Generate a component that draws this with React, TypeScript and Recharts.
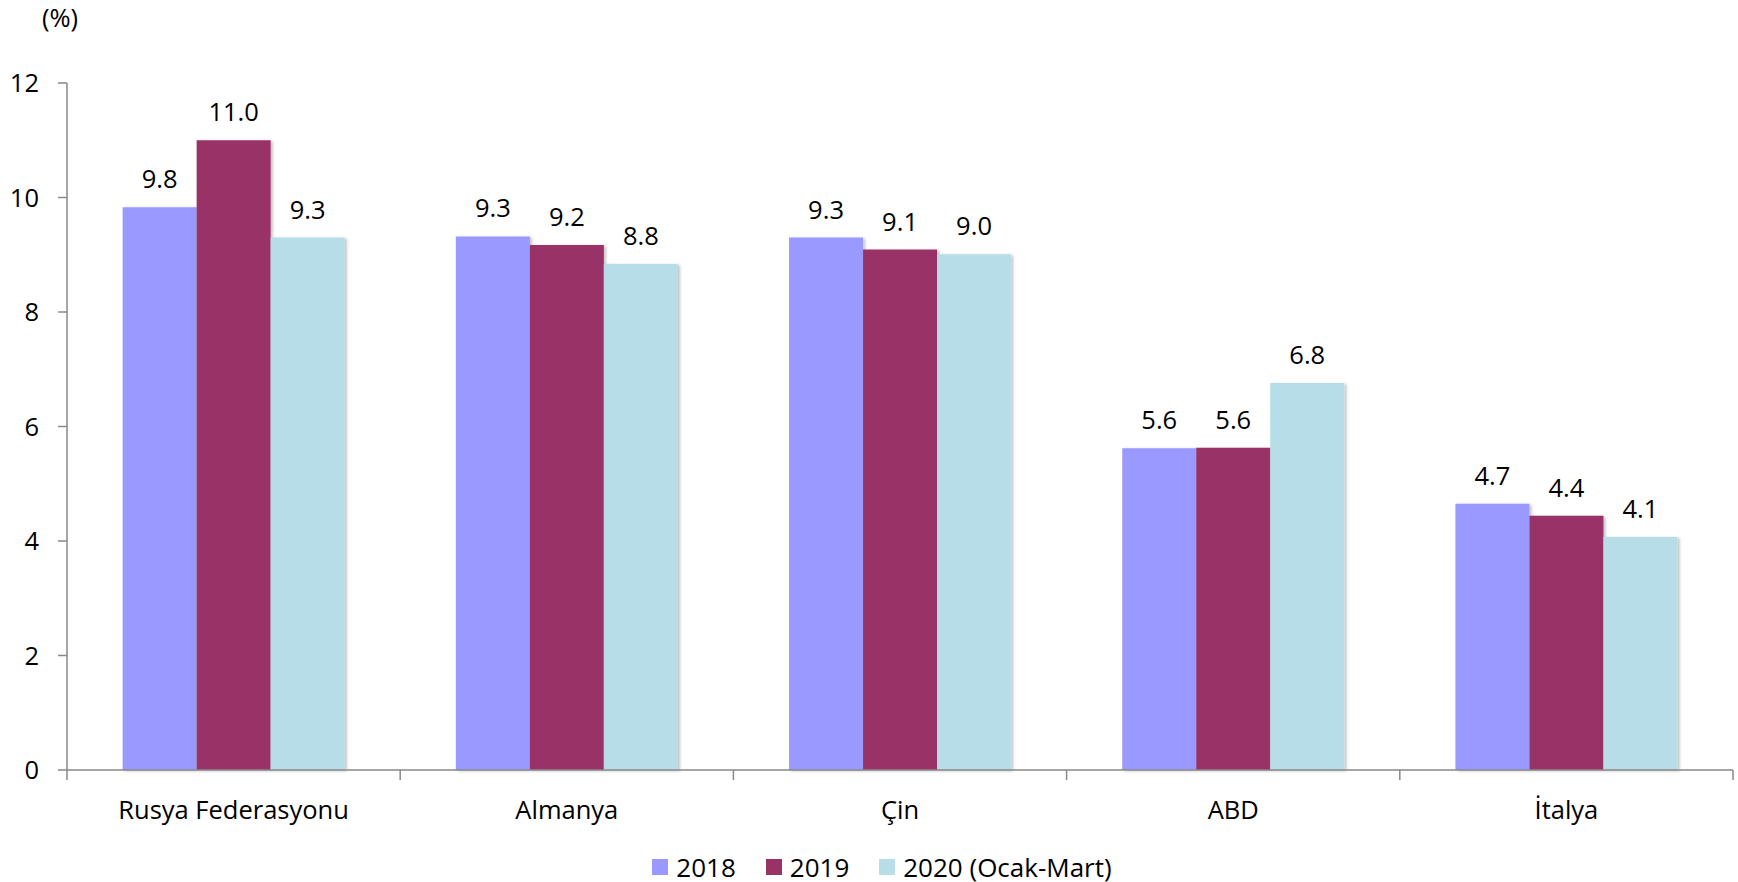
import React from 'react'
import { BarChart, Bar, XAxis, YAxis, LabelList } from 'recharts'

const countries = ['Rusya Federasyonu', 'Almanya', 'Çin', 'ABD', 'İtalya']
const values2018 = [9.83, 9.32, 9.3, 5.62, 4.65]
const values2019 = [11.0, 9.17, 9.09, 5.63, 4.44]
const values2020 = [9.3, 8.84, 9.01, 6.76, 4.07]
const yTicks = [0, 2, 4, 6, 8, 10, 12]
const boundaryTicks = [0, 1, 2, 3, 4, 5]

const series = [
  { key: 'v2018', name: '2018', color: '#9999FF' },
  { key: 'v2019', name: '2019', color: '#993366' },
  { key: 'v2020', name: '2020 (Ocak-Mart)', color: '#B7DDE8' },
]

const FONT = "'Open Sans', sans-serif"
const AXIS = '#898989'
const FS = 25.5

// slot = category centre on the boundary-tick axis
const data = countries.map((c, i) => ({
  name: c,
  slot: i + 0.5,
  v2018: values2018[i],
  v2019: values2019[i],
  v2020: values2020[i],
}))

export default function App() {
  return (
    <div style={{ position: 'absolute', left: 0, top: 0, width: 1738, height: 882, background: '#fff', fontFamily: FONT }}>
      <div style={{ position: 'absolute', left: 42, top: 2, fontSize: FS, lineHeight: '30px', color: '#000' }}>(%)</div>
      <BarChart
        width={1738}
        height={882}
        data={data}
        margin={{ top: 83, right: 5, left: 0, bottom: 0 }}
        barCategoryGap="16.7%"
        barGap={0}
      >
        <defs>
          <filter id="barShadow" x="-10%" y="-10%" width="130%" height="130%">
            <feDropShadow dx="2" dy="1" stdDeviation="1.5" floodColor="#000" floodOpacity="0.25" />
          </filter>
        </defs>
        <XAxis
          xAxisId="a"
          type="number"
          dataKey="slot"
          domain={[0, 5]}
          ticks={boundaryTicks}
          allowDataOverflow
          height={12}
          axisLine={{ stroke: AXIS, strokeWidth: 1.5 }}
          tickLine={{ stroke: AXIS, strokeWidth: 1.5 }}
          tickSize={10}
          tick={() => <g />}
        />
        <XAxis
          xAxisId="b"
          dataKey="name"
          height={100}
          axisLine={false}
          tickLine={false}
          tickMargin={13}
          tick={{ fontSize: FS, fill: '#000', fontFamily: FONT }}
          interval={0}
        />
        <YAxis
          domain={[0, 12]}
          ticks={yTicks}
          width={67}
          axisLine={{ stroke: AXIS, strokeWidth: 1.5 }}
          tickLine={{ stroke: AXIS, strokeWidth: 1.5 }}
          tickSize={9}
          tickMargin={19}
          tick={{ fontSize: FS, fill: '#000', fontFamily: FONT }}
        />
        {series.map((s) => (
          <Bar
            key={s.key}
            xAxisId="b"
            dataKey={s.key}
            name={s.name}
            fill={s.color}
            isAnimationActive={false}
            style={{ filter: 'url(#barShadow)' }}
          >
            <LabelList
              dataKey={s.key}
              position="top"
              offset={19}
              formatter={(v: any) => Number(v).toFixed(1)}
              style={{ fontSize: FS, fill: '#000', fontFamily: FONT }}
            />
          </Bar>
        ))}
      </BarChart>
      <div
        style={{
          position: 'absolute',
          left: 13,
          top: 851,
          width: 1738,
          display: 'flex',
          justifyContent: 'center',
          alignItems: 'center',
          fontSize: 26,
          lineHeight: '32px',
          color: '#000',
        }}
      >
        {series.map((s) => (
          <div key={s.key} style={{ display: 'flex', alignItems: 'center', margin: '0 15px' }}>
            <span style={{ width: 16, height: 16, background: s.color, display: 'inline-block', marginRight: 8 }} />
            <span>{s.name}</span>
          </div>
        ))}
      </div>
    </div>
  )
}
